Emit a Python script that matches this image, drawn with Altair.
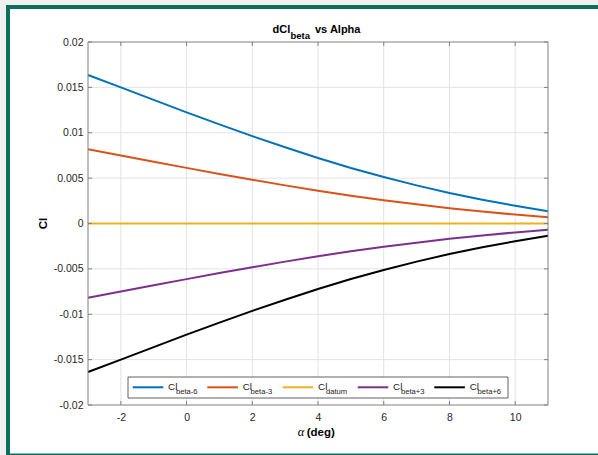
import altair as alt
import pandas as pd

# ---- data ----
alpha = [-3, -2, -1, 0, 1, 2, 3, 4, 5, 6, 7, 8, 9, 10, 11]
cl_beta_m6 = [0.01636, 0.01500, 0.01362, 0.01225, 0.01092, 0.00963, 0.00840, 0.00722,
              0.00612, 0.00512, 0.00420, 0.00336, 0.00262, 0.00195, 0.00135]
cl_beta_m3 = [0.00818, 0.00750, 0.00681, 0.00613, 0.00546, 0.00482, 0.00420, 0.00361,
              0.00306, 0.00257, 0.00211, 0.00169, 0.00132, 0.00098, 0.00068]
cl_datum = [0, 0, 0, 0, 0, 0, 0, 0, 0, 0, 0, 0, 0, 0, 0]
cl_beta_p3 = [-0.00818, -0.00750, -0.00681, -0.00613, -0.00546, -0.00482, -0.00420, -0.00361,
              -0.00306, -0.00257, -0.00211, -0.00169, -0.00132, -0.00098, -0.00068]
cl_beta_p6 = [-0.01636, -0.01500, -0.01362, -0.01225, -0.01092, -0.00963, -0.00840, -0.00722,
              -0.00612, -0.00512, -0.00420, -0.00336, -0.00262, -0.00195, -0.00135]

series_names = ["beta-6", "beta-3", "datum", "beta+3", "beta+6"]
series_colors = ["#0072BD", "#D95319", "#EDB120", "#7E2F8E", "#000000"]
x_ticks = [-2, 0, 2, 4, 6, 8, 10]
y_ticks = [-0.02, -0.015, -0.01, -0.005, 0, 0.005, 0.01, 0.015, 0.02]
x_grid = [-2, 0, 2, 4, 6, 8, 10]
y_grid = [-0.015, -0.01, -0.005, 0, 0.005, 0.01, 0.015]

all_series = [cl_beta_m6, cl_beta_m3, cl_datum, cl_beta_p3, cl_beta_p6]
rows = []
for name, vals in zip(series_names, all_series):
    for a, v in zip(alpha, vals):
        rows.append({"alpha": a, "cl": v, "series": name})
df = pd.DataFrame(rows)
one = pd.DataFrame({"k": [0]})

W, H = 460, 363
GREEN = "#0f6e5a"
GRID = "#e3e3e3"
BOX = "#808080"
SANS = "Liberation Sans"

xscale = alt.Scale(domain=[-3, 11], nice=False, zero=False)
yscale = alt.Scale(domain=[-0.02, 0.02], nice=False, zero=False)
lbl = "(datum.value < 0 ? '-' : '') + format(abs(datum.value), '~g')"

xaxis = alt.Axis(values=x_ticks, labelExpr=lbl, title=None, zindex=2,
                 domain=False, ticks=False, grid=False, labelPadding=7)
yaxis = alt.Axis(values=y_ticks, labelExpr=lbl, title=None, zindex=2,
                 domain=False, ticks=False, grid=False, labelPadding=5)

layers = []

# white panel with green frame
layers.append(alt.Chart(one).mark_rect(fill="white", stroke=GREEN, strokeWidth=4).encode(
    x=alt.value(-80), x2=alt.value(640), y=alt.value(-35), y2=alt.value(413.5)))

# grid
layers.append(alt.Chart(pd.DataFrame({"gx": x_grid})).mark_rule(color=GRID, strokeWidth=1).encode(
    x=alt.X("gx:Q", scale=xscale, axis=xaxis), y=alt.value(0), y2=alt.value(H)))
layers.append(alt.Chart(pd.DataFrame({"gy": y_grid})).mark_rule(color=GRID, strokeWidth=1).encode(
    y=alt.Y("gy:Q", scale=yscale, axis=yaxis), x=alt.value(0), x2=alt.value(W)))

# data lines
layers.append(alt.Chart(df).mark_line(strokeWidth=2).encode(
    x=alt.X("alpha:Q", scale=xscale, axis=xaxis),
    y=alt.Y("cl:Q", scale=yscale, axis=yaxis),
    color=alt.Color("series:N", scale=alt.Scale(domain=series_names, range=series_colors), legend=None),
    detail="series:N",
))

# axes box
layers.append(alt.Chart(one).mark_rect(fillOpacity=0, stroke=BOX, strokeWidth=1).encode(
    x=alt.value(0), x2=alt.value(W), y=alt.value(0), y2=alt.value(H)))

# inward ticks
xt = pd.DataFrame({"tx": x_ticks})
yt = pd.DataFrame({"ty": y_ticks})
layers.append(alt.Chart(xt).mark_rule(color=BOX).encode(
    x=alt.X("tx:Q", scale=xscale, axis=xaxis), y=alt.value(H), y2=alt.value(H - 4)))
layers.append(alt.Chart(xt).mark_rule(color=BOX).encode(
    x=alt.X("tx:Q", scale=xscale, axis=xaxis), y=alt.value(0), y2=alt.value(4)))
layers.append(alt.Chart(yt).mark_rule(color=BOX).encode(
    y=alt.Y("ty:Q", scale=yscale, axis=yaxis), x=alt.value(0), x2=alt.value(4)))
layers.append(alt.Chart(yt).mark_rule(color=BOX).encode(
    y=alt.Y("ty:Q", scale=yscale, axis=yaxis), x=alt.value(W), x2=alt.value(W - 4)))


def txt(s, x, y, size, bold=False, font=SANS, italic=False, angle=None, align="left", color="#000000"):
    kw = dict(text=s, align=align, baseline="alphabetic", font=font, fontSize=size, color=color)
    if bold:
        kw["fontWeight"] = "bold"
    if italic:
        kw["fontStyle"] = "italic"
    if angle is not None:
        kw["angle"] = angle
    return alt.Chart(one).mark_text(**kw).encode(x=alt.value(x), y=alt.value(y))


# title
layers.append(txt("dCl", 184.5, -9, 11, bold=True))
layers.append(txt("beta", 202.5, -3.5, 9.5, bold=True))
layers.append(txt("vs Alpha", 227, -9, 11, bold=True))

# axis titles
layers.append(txt("Cl", -41, 181.5, 11.5, bold=True, angle=270, align="center"))
layers.append(txt("\u03b1", 209.7, 394, 12.5, font="Liberation Serif", italic=True))
layers.append(txt("(deg)", 218.7, 394, 11.5, bold=True))

# legend
layers.append(alt.Chart(one).mark_rect(fill="white", stroke="#3a3a3a", strokeWidth=0.8).encode(
    x=alt.value(40), x2=alt.value(420), y=alt.value(335), y2=alt.value(356)))
starts = [44.7, 119.3, 194.7, 269.7, 346.3]
for name, col, sx in zip(series_names, series_colors, starts):
    layers.append(alt.Chart(one).mark_rule(color=col, strokeWidth=2).encode(
        x=alt.value(sx), x2=alt.value(sx + 30.6), y=alt.value(345.3)))
    layers.append(txt("Cl", sx + 35.4, 347.6, 9.8, color="#1a1a1a"))
    layers.append(txt(name, sx + 43.3, 351.5, 7.6, color="#1a1a1a"))

chart = alt.layer(*layers).properties(
    width=W, height=H,
    autosize=alt.AutoSizeParams(type="none"),
    padding={"left": 88, "top": 42, "right": 50, "bottom": 50},
    background="#f0f0f0",
).configure_view(stroke=None).configure_axis(
    labelFont=SANS, labelFontSize=10.5, labelColor="#262626",
)

chart.save("out.html", embed_options={"renderer": "svg", "actions": False})
